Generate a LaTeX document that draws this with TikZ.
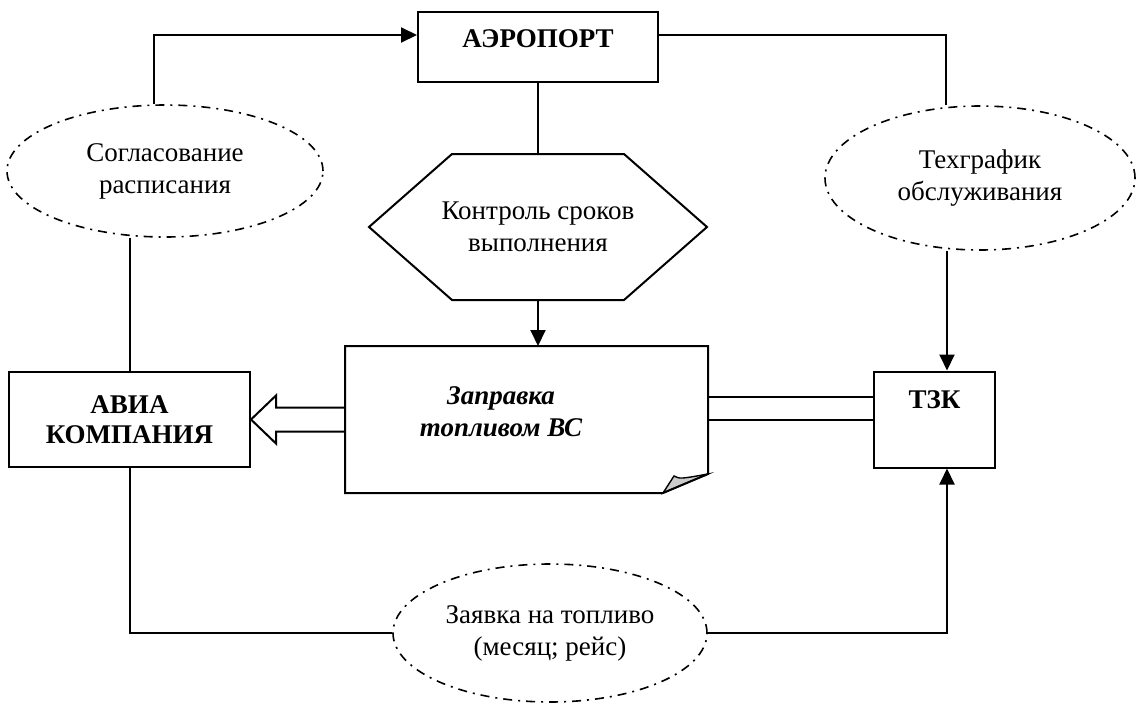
\documentclass[tikz,border=0pt]{standalone}
\usepackage{fontspec}
\setmainfont{Liberation Serif}
\usetikzlibrary{shapes.geometric, arrows.meta, calc}
\newcommand{\bigfont}{\fontsize{27}{32}\selectfont}

\begin{document}
\begin{tikzpicture}[x=1pt, y=-1pt, line width=2pt,
     every node/.style={font=\bigfont, inner sep=0pt, align=center},
     box/.style={rectangle, draw, font=\bigfont\bfseries},
     oval/.style={ellipse, draw, line width=1.6pt, dash pattern=on 9pt off 6pt on 2pt off 6pt},
     arr/.style={-{Triangle[length=16pt, width=15pt]}}]
     \useasboundingbox (0,0) rectangle (1136,702);

     \node[box, minimum width=240pt, minimum height=70pt, text height=35pt, text depth=35pt] (port) at (538,47) {АЭРОПОРТ};
     \node[box, minimum width=241pt, minimum height=95pt, font=\fontsize{27}{30}\selectfont\bfseries] (avia) at (129.5,419.5) {АВИА\\КОМПАНИЯ};
     \node[box, minimum width=121pt, minimum height=96pt, text height=36.5pt, text depth=59.5pt] (tzk) at (934.5,419.5) {ТЗК};
     \node[minimum width=361pt, minimum height=145pt] (zapr) at (526.5,419.5) {};
     \node[font=\bigfont\bfseries\itshape] (zaprlbl) at (501,412) {Заправка\\топливом ВС};
     \node[minimum width=336pt, minimum height=144pt] (kontr) at (538,227) {Контроль сроков\\выполнения};

     \node[oval, minimum width=316pt, minimum height=132pt] (sogl) at (165,171) {Согласование\\расписания};
     \node[oval, minimum width=310pt, minimum height=144pt] (tech) at (980,178) {Техграфик\\обслуживания};
     \node[oval, minimum width=314pt, minimum height=138pt] (zayav) at (550,633) {Заявка на топливо\\(месяц; рейс)};

     % шестиугольник
     \draw ($(kontr.north west)+(83,0)$) -- ($(kontr.north east)+(-83,0)$) -- (kontr.east)
          -- ($(kontr.south east)+(-83,0)$) -- ($(kontr.south west)+(83,0)$) -- (kontr.west) -- cycle;

     % лист с загнутым углом
     \filldraw[fill=black!20, line width=1.4pt] ($(zapr.south east)+(-45,0)$) -- ($(zapr.south east)+(-34,-17)$)
          .. controls ($(zapr.south east)+(-28,-14)$) .. ($(zapr.south east)+(0,-19)$) -- cycle;
     \draw ($(zapr.south east)+(0,-19)$) -- (zapr.north east) -- (zapr.north west) -- (zapr.south west)
          -- ($(zapr.south east)+(-45,0)$) -- cycle;

     \draw[arr] ([xshift=-11pt]sogl.north) |- ([yshift=12pt]port.west);
     \draw (avia.north) -- (avia.north |- sogl.south);
     \draw ([yshift=12pt]port.east) -| ([xshift=-34pt]tech.north);
     \draw[arr] ([xshift=-33pt]tech.south) -- ([xshift=-33pt]tech.south |- tzk.north);
     \draw (port.south) -- (kontr.north);
     \draw[arr] (kontr.south) -- (kontr.south |- zapr.north);
     \draw (avia.south) |- (zayav.west);
     \draw[arr] (zayav.east) -| ([xshift=12.5pt]tzk.south);

     % полая стрелка
     \draw ($(zapr.west)+(0,-12)$) -- ($(avia.east)+(25,-12)$) -- ($(avia.east)+(25,-24)$) -- (avia.east)
          -- ($(avia.east)+(25,24)$) -- ($(avia.east)+(25,12)$) -- ($(zapr.west)+(0,12)$);

     \draw (zapr.east) -- (tzk.west);
     \draw ($(zapr.east)+(0,-23)$) -- ($(tzk.west)+(0,-23)$);
\end{tikzpicture}
\end{document}
